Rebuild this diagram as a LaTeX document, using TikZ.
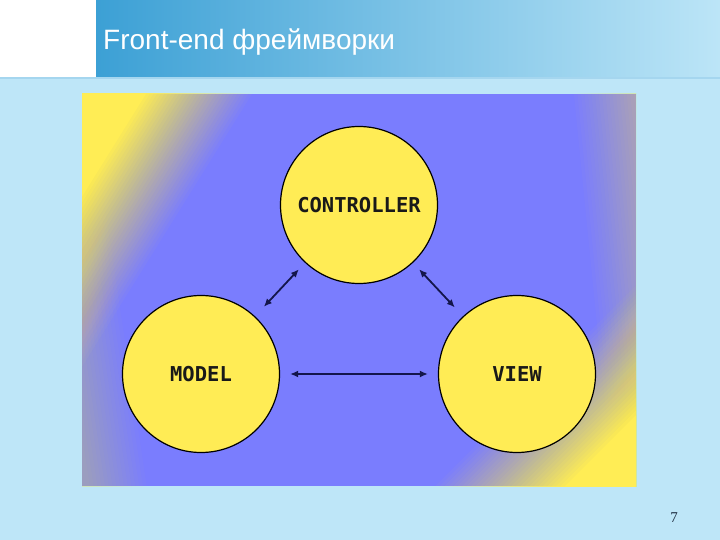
\documentclass[tikz,border=0pt]{standalone}
\usepackage{fontspec}
\newfontfamily\titlefont{Liberation Sans}
\newfontfamily\numfont{Liberation Serif}
\newfontfamily\mvcfont{DejaVu Sans Mono}
\usetikzlibrary{arrows.meta}
\definecolor{pagebg}{RGB}{190,230,248}
\definecolor{barL}{RGB}{60,160,213}
\definecolor{barR}{RGB}{188,229,247}
\definecolor{barline}{RGB}{165,214,239}
\definecolor{bgblue}{RGB}{122,125,254}
\definecolor{bgyellow}{RGB}{255,237,85}
\definecolor{ballyellow}{RGB}{255,236,85}
\definecolor{arrowc}{RGB}{20,22,75}
\definecolor{numc}{RGB}{30,45,65}
% ramp of yellow over the half-planes n.p >= c, c from #3 (none) to #4 (max #5), #6 steps
\newcommand\bgramp[6]{%
  \foreach \k in {1,...,#6}{%
    \pgfmathsetmacro\cc{#3+(#4-(#3))*(\k-0.5)/#6}%
    \pgfmathsetmacro\aa{#5/(#6-#5*(\k-1))}%
    \fill[bgyellow, fill opacity=\aa]
      ({\cc*(#1)+900*(#2)},{\cc*(#2)-900*(#1)}) --
      ({\cc*(#1)-900*(#2)},{\cc*(#2)+900*(#1)}) --
      ({(\cc+900)*(#1)-900*(#2)},{(\cc+900)*(#2)+900*(#1)}) --
      ({(\cc+900)*(#1)+900*(#2)},{(\cc+900)*(#2)-900*(#1)}) -- cycle;
  }}
\begin{document}
\begin{tikzpicture}[x=1pt,y=-1pt,
  ball/.style={circle, draw=black, line width=1.2pt, fill=ballyellow,
    minimum size=157pt, inner sep=0pt, text=black!90,
    font=\mvcfont\bfseries\fontsize{20.5}{23}\selectfont},
  link/.style={draw=arrowc, line width=1.8pt,
    {Latex[length=8pt,width=7pt]}-{Latex[length=8pt,width=7pt]}}]
\useasboundingbox (0,0) rectangle (720,540);
\fill[pagebg] (0,0) rectangle (720,540);
% title bar
\fill[white] (0,0) rectangle (96,77);
\shade[left color=barL, right color=barR] (96,0) rectangle (720,77);
\draw[barline, line width=2pt] (0,78) -- (720,78);
\node[anchor=base west, text=white, inner sep=0pt,
  font=\titlefont\fontsize{28}{34}\selectfont] (title) at (103,50) {Front-end фреймворки};
% picture background
\begin{scope}
  \clip (82,94) rectangle (636,486);
  \fill[bgblue] (82,94) rectangle (636,486);
  \bgramp{-0.849}{-0.529}{-265}{-172}{1}{30}
  \bgramp{0.707}{0.707}{650}{745}{1}{30}
  \bgramp{0.995}{-0.0995}{560}{630}{0.45}{20}
  \bgramp{-0.989}{0.148}{-75}{-15}{0.32}{16}
\end{scope}
% nodes
\node[ball] (ctrl) at (359,205) {CONTROLLER};
\node[ball] (model) at (201,374) {MODEL};
\node[ball] (view) at (517,374) {VIEW};
% connectors
\draw[link, shorten <=13pt, shorten >=9pt] (model) -- (ctrl);
\draw[link, shorten <=9pt, shorten >=12pt] (ctrl) -- (view);
\draw[link, shorten <=10pt, shorten >=10pt] (model) -- (view);
% page number
\node[anchor=base, inner sep=0pt, text=numc,
  font=\numfont\fontsize{15}{18}\selectfont] (pagenum) at (674,522) {7};
\end{tikzpicture}
\end{document}
